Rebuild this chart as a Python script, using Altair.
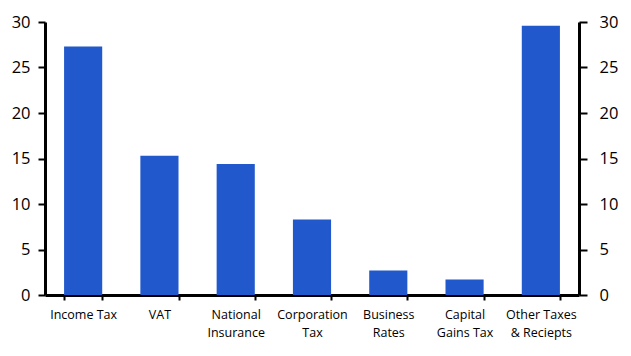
import altair as alt
import pandas as pd

categories = ["Income Tax", "VAT", "National\nInsurance", "Corporation\nTax",
              "Business\nRates", "Capital\nGains Tax", "Other Taxes\n& Reciepts"]
values = [27.3, 15.3, 14.4, 8.3, 2.7, 1.7, 29.6]
y_ticks = [0, 5, 10, 15, 20, 25, 30]

df = pd.DataFrame({"category": categories, "value": values})

FONT = "Open Sans"

base = alt.Chart(df).encode(
    x=alt.X("category:N", sort=categories,
            scale=alt.Scale(paddingInner=0.5, paddingOuter=0.25),
            axis=alt.Axis(title=None, labelAngle=0, tickBand="extent",
                          labelExpr="split(datum.label, '\\n')",
                          labelFont=FONT, labelFontSize=12.5, labelColor="#000",
                          labelLineHeight=18, labelPadding=8,
                          tickSize=5, tickWidth=2, tickColor="#000",
                          domainColor="#000", domainWidth=3)),
)

bars = base.mark_bar(color="#2159cc").encode(
    y=alt.Y("value:Q", scale=alt.Scale(domain=[0, 30]),
            axis=alt.Axis(title=None, values=y_ticks, orient="left",
                          labelFont=FONT, labelFontSize=16.5, labelColor="#000",
                          labelPadding=8, tickSize=7, tickWidth=2, tickColor="#000",
                          domainColor="#000", domainWidth=3, grid=False))
)

right = base.mark_bar(opacity=0).encode(
    y=alt.Y("value:Q", scale=alt.Scale(domain=[0, 30]),
            axis=alt.Axis(title=None, values=y_ticks, orient="right",
                          labelFont=FONT, labelFontSize=16.5, labelColor="#000",
                          labelPadding=12, tickSize=8, tickWidth=2, tickColor="#000",
                          domainColor="#000", domainWidth=3, grid=False))
)

chart = alt.layer(bars, right).resolve_scale(y="independent").properties(
    width=534, height=273,
    autosize=alt.AutoSizeParams(type="none"),
    padding={"left": 37, "top": 14, "right": 40, "bottom": 52},
).configure_view(stroke=None)

chart.save("out.html", embed_options={"renderer": "svg", "actions": False})
